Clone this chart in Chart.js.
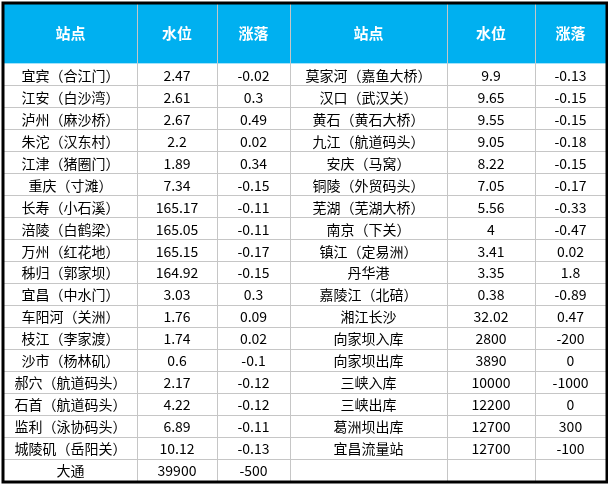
<!DOCTYPE html>
<html>
<head>
<meta charset="utf-8">
<script src="https://cdn.jsdelivr.net/npm/chart.js@4"></script>
<style>
  html, body { margin: 0; padding: 0; background: #fff; }
  canvas { display: block; }
</style>
</head>
<body>
<canvas id="tabela" width="608" height="487"></canvas>
<script>
// dados da tabela
const headers = ['站点', '水位', '涨落', '站点', '水位', '涨落'];
const leftStations = ['宜宾（合江门）', '江安（白沙湾）', '泸州（麻沙桥）', '朱沱（汉东村）', '江津（猪圈门）', '重庆（寸滩）',
    '长寿（小石溪）', '涪陵（白鹤梁）', '万州（红花地）', '秭归（郭家坝）', '宜昌（中水门）', '车阳河（关洲）',
    '枝江（李家渡）', '沙市（杨林矶）', '郝穴（航道码头）', '石首（航道码头）', '监利（泳协码头）', '城陵矶（岳阳关）', '大通'];
const leftLevel = ['2.47', '2.61', '2.67', '2.2', '1.89', '7.34', '165.17', '165.05', '165.15', '164.92', '3.03', '1.76',
    '1.74', '0.6', '2.17', '4.22', '6.89', '10.12', '39900'];
const leftChange = ['-0.02', '0.3', '0.49', '0.02', '0.34', '-0.15', '-0.11', '-0.11', '-0.17', '-0.15', '0.3', '0.09',
    '0.02', '-0.1', '-0.12', '-0.12', '-0.11', '-0.13', '-500'];
const rightStations = ['莫家河（嘉鱼大桥）', '汉口（武汉关）', '黄石（黄石大桥）', '九江（航道码头）', '安庆（马窝）', '铜陵（外贸码头）',
    '芜湖（芜湖大桥）', '南京（下关）', '镇江（定易洲）', '丹华港', '嘉陵江（北碚）', '湘江长沙', '向家坝入库',
    '向家坝出库', '三峡入库', '三峡出库', '葛洲坝出库', '宜昌流量站', ''];
const rightLevel = ['9.9', '9.65', '9.55', '9.05', '8.22', '7.05', '5.56', '4', '3.41', '3.35', '0.38', '32.02', '2800',
    '3890', '10000', '12200', '12700', '12700', ''];
const rightChange = ['-0.13', '-0.15', '-0.15', '-0.18', '-0.15', '-0.17', '-0.33', '-0.47', '0.02', '1.8', '-0.89', '0.47', '-200',
    '0', '-1000', '0', '300', '-100', ''];

const columns = [leftStations, leftLevel, leftChange, rightStations, rightLevel, rightChange];
const colEdges = [0, 133, 213, 286, 443, 531, 602];
const headerRows = 2.7;
const totalRows = headerRows + leftStations.length;

const tablePlugin = {
    id: 'tablePlugin',
    afterDraw(chart) {
        const ctx = chart.ctx;
        const x = chart.scales.x, y = chart.scales.y;
        const X = v => x.getPixelForValue(v), Y = v => y.getPixelForValue(v);
        ctx.save();
        // cabeçalho
        ctx.fillStyle = '#00B0F0';
        ctx.fillRect(X(0), Y(0), X(602) - X(0), Y(headerRows) - Y(0));
        ctx.textAlign = 'center';
        ctx.textBaseline = 'middle';
        ctx.font = 'bold 15px "Noto Sans CJK SC"';
        ctx.fillStyle = '#ffffff';
        headers.forEach((h, i) => ctx.fillText(h, (X(colEdges[i]) + X(colEdges[i + 1])) / 2, Y(headerRows / 2)));
        // linhas
        ctx.strokeStyle = '#c6c6c6';
        ctx.lineWidth = 1;
        for (let r = 1; r < leftStations.length; r++) {
            const py = Math.round(Y(headerRows + r)) + 0.5;
            ctx.beginPath(); ctx.moveTo(X(0), py); ctx.lineTo(X(602), py); ctx.stroke();
        }
        for (let c = 1; c < colEdges.length - 1; c++) {
            const px = Math.round(X(colEdges[c])) + 0.5;
            ctx.beginPath(); ctx.moveTo(px, Y(0)); ctx.lineTo(px, Y(totalRows)); ctx.stroke();
        }
        // células
        ctx.font = '14px "Noto Sans CJK SC"';
        ctx.fillStyle = '#000000';
        columns.forEach((col, c) => {
            const cx = (X(colEdges[c]) + X(colEdges[c + 1])) / 2;
            col.forEach((v, r) => ctx.fillText(v, cx, Y(headerRows + r + 0.5) + 1));
        });
        // borda
        ctx.strokeStyle = '#000000';
        ctx.lineWidth = 3;
        ctx.strokeRect(X(0) - 1, Y(0) - 1, X(602) - X(0) + 2, Y(totalRows) - Y(0) + 2);
        ctx.restore();
    }
};

new Chart(document.getElementById('tabela'), {
    type: 'scatter',
    data: { datasets: [{ data: [] }] },
    options: {
        responsive: false,
        animation: false,
        layout: { padding: { left: 4, top: 4, right: 2, bottom: 6 } },
        plugins: { legend: { display: false }, tooltip: { enabled: false } },
        scales: {
            x: { type: 'linear', min: 0, max: 602, display: false },
            y: { type: 'linear', min: 0, max: totalRows, reverse: true, display: false }
        }
    },
    plugins: [tablePlugin]
});
</script>
</body>
</html>
